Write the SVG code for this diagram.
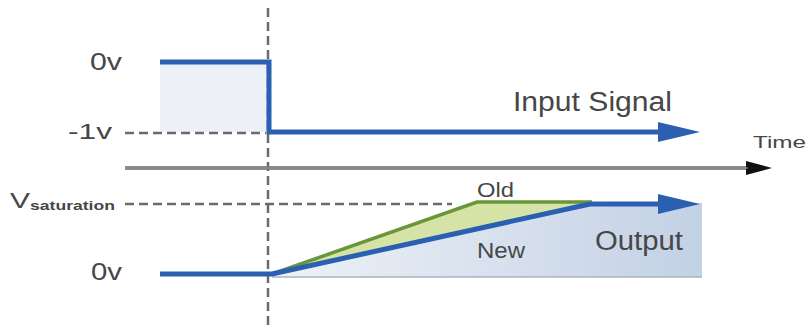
<svg xmlns="http://www.w3.org/2000/svg" width="809" height="325" viewBox="0 0 809 325">
  <style>
    .lbl { font-family: "Liberation Sans", Arial, sans-serif; fill: #474747; }
    .sig { fill: none; stroke: #2B5FB2; stroke-width: 5; stroke-linejoin: miter; }
    .dash { fill: none; stroke: #6b6b6b; stroke-width: 2.5; stroke-dasharray: 9 5; }
  </style>
  <defs>
    <marker id="blueHead" viewBox="0 0 42 22" refX="2" refY="11" markerWidth="42" markerHeight="22" markerUnits="userSpaceOnUse" orient="auto">
      <path d="M0,1 L42,11 L0,21 Z" fill="#2B5FB2"/>
    </marker>
    <marker id="axisHead" viewBox="0 0 26 14" refX="2" refY="7" markerWidth="26" markerHeight="14" markerUnits="userSpaceOnUse" orient="auto">
      <path d="M0,0 L26,7 L0,14 Z" fill="#111"/>
    </marker>
    <linearGradient id="outFill" x1="272" y1="0" x2="702" y2="0" gradientUnits="userSpaceOnUse">
      <stop offset="0" stop-color="#eef2f8"/>
      <stop offset="1" stop-color="#c3d1e5"/>
    </linearGradient>
  </defs>

  <!-- input signal: pre-step area -->
  <g id="input-area">
    <rect x="160" y="62" width="108" height="70" fill="#edf1f7"/>
  </g>

  <!-- output signal area under the ramp -->
  <g id="output-area">
    <polygon points="272,274 590,205 702,203 702,277 272,277" fill="url(#outFill)"/>
    <line x1="272" y1="277" x2="702" y2="277" stroke="#a9b3c0" stroke-width="1.5"/>
    <polygon points="272,274 477,202 590,202 590,205" fill="#d5e4a6"/>
  </g>

  <!-- reference lines and axis -->
  <g id="connectors">
    <line class="dash" x1="268" y1="8" x2="268" y2="325" stroke-width="1.6" stroke-dasharray="12 7" stroke="#555"/>
    <line class="dash" x1="125" y1="133" x2="266" y2="133"/>
    <line class="dash" x1="125" y1="204" x2="452" y2="204"/>
    <line x1="125" y1="168" x2="748" y2="168" stroke="#6a6a6a" stroke-width="3.5" marker-end="url(#axisHead)"/>
    <line x1="125" y1="168" x2="748" y2="168" stroke="#a8a8a8" stroke-width="1"/>
    <!-- input step -->
    <path class="sig" d="M160,62 H269 V132 H660" marker-end="url(#blueHead)"/>
    <!-- old response -->
    <polyline points="272,274 477,202 592,202" fill="none" stroke="#6a963a" stroke-width="3.5"/>
    <!-- new response -->
    <path class="sig" d="M160,274 H272 L590,204 H660" marker-end="url(#blueHead)"/>
  </g>

  <g id="labels">
    <text class="lbl" x="90" y="70" font-size="24" textLength="32" lengthAdjust="spacingAndGlyphs">0v</text>
    <text class="lbl" x="68" y="139" font-size="22" textLength="44" lengthAdjust="spacingAndGlyphs">-1v</text>
    <text class="lbl" x="513" y="111" font-size="27" textLength="159" lengthAdjust="spacingAndGlyphs">Input Signal</text>
    <text class="lbl" x="753" y="148" font-size="17" textLength="53" lengthAdjust="spacingAndGlyphs">Time</text>
    <text class="lbl" x="10" y="208" font-size="22" textLength="20" lengthAdjust="spacingAndGlyphs">V</text>
    <text class="lbl" x="30" y="210" font-size="12" font-weight="bold" textLength="85" lengthAdjust="spacingAndGlyphs">saturation</text>
    <text class="lbl" x="91" y="280" font-size="24" textLength="31" lengthAdjust="spacingAndGlyphs">0v</text>
    <text class="lbl" x="477" y="197" font-size="21" textLength="37" lengthAdjust="spacingAndGlyphs">Old</text>
    <text class="lbl" x="477" y="258" font-size="22" textLength="48" lengthAdjust="spacingAndGlyphs">New</text>
    <text class="lbl" x="595" y="250" font-size="27" textLength="88" lengthAdjust="spacingAndGlyphs">Output</text>
  </g>
</svg>
